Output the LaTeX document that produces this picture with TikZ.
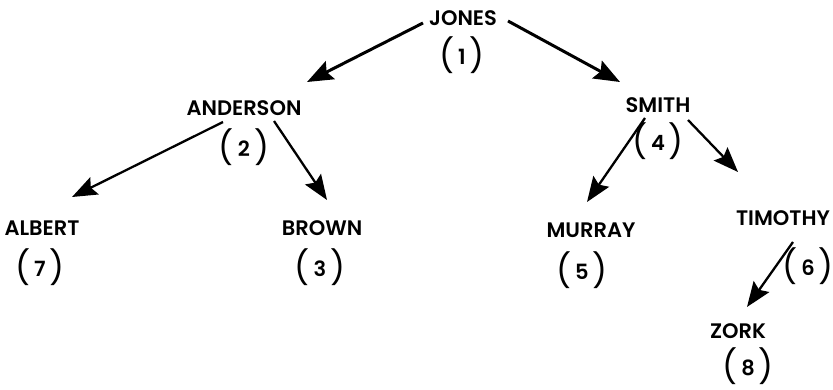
\documentclass[tikz,border=0pt]{standalone}
\usepackage{fontspec}
\setmainfont{Poppins}
\newfontfamily\popsemi{Poppins SemiBold}
\newfontfamily\popreg{Poppins}
\usetikzlibrary{arrows.meta}
\newcommand{\pn}[1]{{\popreg\fontsize{33}{33}\selectfont(}\hspace{4pt}\raisebox{3pt}{\popsemi#1}\hspace{4pt}{\popreg\fontsize{33}{33}\selectfont)}}
\tikzset{
  nm/.style={font=\fontsize{21}{21}\selectfont\popsemi, inner sep=0pt, anchor=base},
  num/.style={font=\fontsize{21}{21}\selectfont, inner sep=0pt},
  arr/.style={line width=3pt, -{Stealth[length=26pt, width=20pt, inset=4pt]}},
  arrs/.style={line width=2.3pt, -{Stealth[length=25pt, width=19pt, inset=4pt]}}
}
\begin{document}
\begin{tikzpicture}[x=1pt,y=-1pt]
\useasboundingbox (0,0) rectangle (833,389);
% names (baseline positions)
\node[nm] (jones) at (463,25) {JONES};
\node[num] (n1) at (462,55) {\pn{1}};
\node[nm] (anderson) at (244,115) {ANDERSON};
\node[num] (n2) at (244,147) {\pn{2}};
\node[nm] (smith) at (658,112) {SMITH};
\node[num] (n4) at (658,141) {\pn{4}};
\node[nm] (albert) at (42,235) {ALBERT};
\node[num] (n7) at (40,267) {\pn{7}};
\node[nm] (brown) at (322,235) {BROWN};
\node[num] (n3) at (320,267) {\pn{3}};
\node[nm] (murray) at (591,237) {MURRAY};
\node[num] (n5) at (582,270) {\pn{5}};
\node[nm] (timothy) at (783,225) {TIMOTHY};
\node[num] (n6) at (808,266) {\pn{6}};
\node[nm] (zork) at (738,338) {ZORK};
\node[num] (n8) at (748,366) {\pn{8}};
% arrow end points
\coordinate (jR) at (508,21);
\coordinate (jL) at (423,23);
\coordinate (sT) at (620,82);
\coordinate (aT) at (307,82);
\coordinate (aL) at (223,122);
\coordinate (aR) at (274,121);
\coordinate (alT) at (72,197);
\coordinate (brT) at (327,200);
\coordinate (sL) at (645,118);
\coordinate (sR) at (688,120);
\coordinate (muT) at (587,202);
\coordinate (tiT) at (738,172);
\coordinate (tB) at (793,242);
\coordinate (zT) at (747,307);
\draw[arr] (jR) -- (sT);
\draw[arr] (jL) -- (aT);
\draw[arrs] (aL) -- (alT);
\draw[arrs] (aR) -- (brT);
\draw[arrs] (sL) -- (muT);
\draw[arrs] (sR) -- (tiT);
\draw[arrs] (tB) -- (zT);
\end{tikzpicture}
\end{document}
